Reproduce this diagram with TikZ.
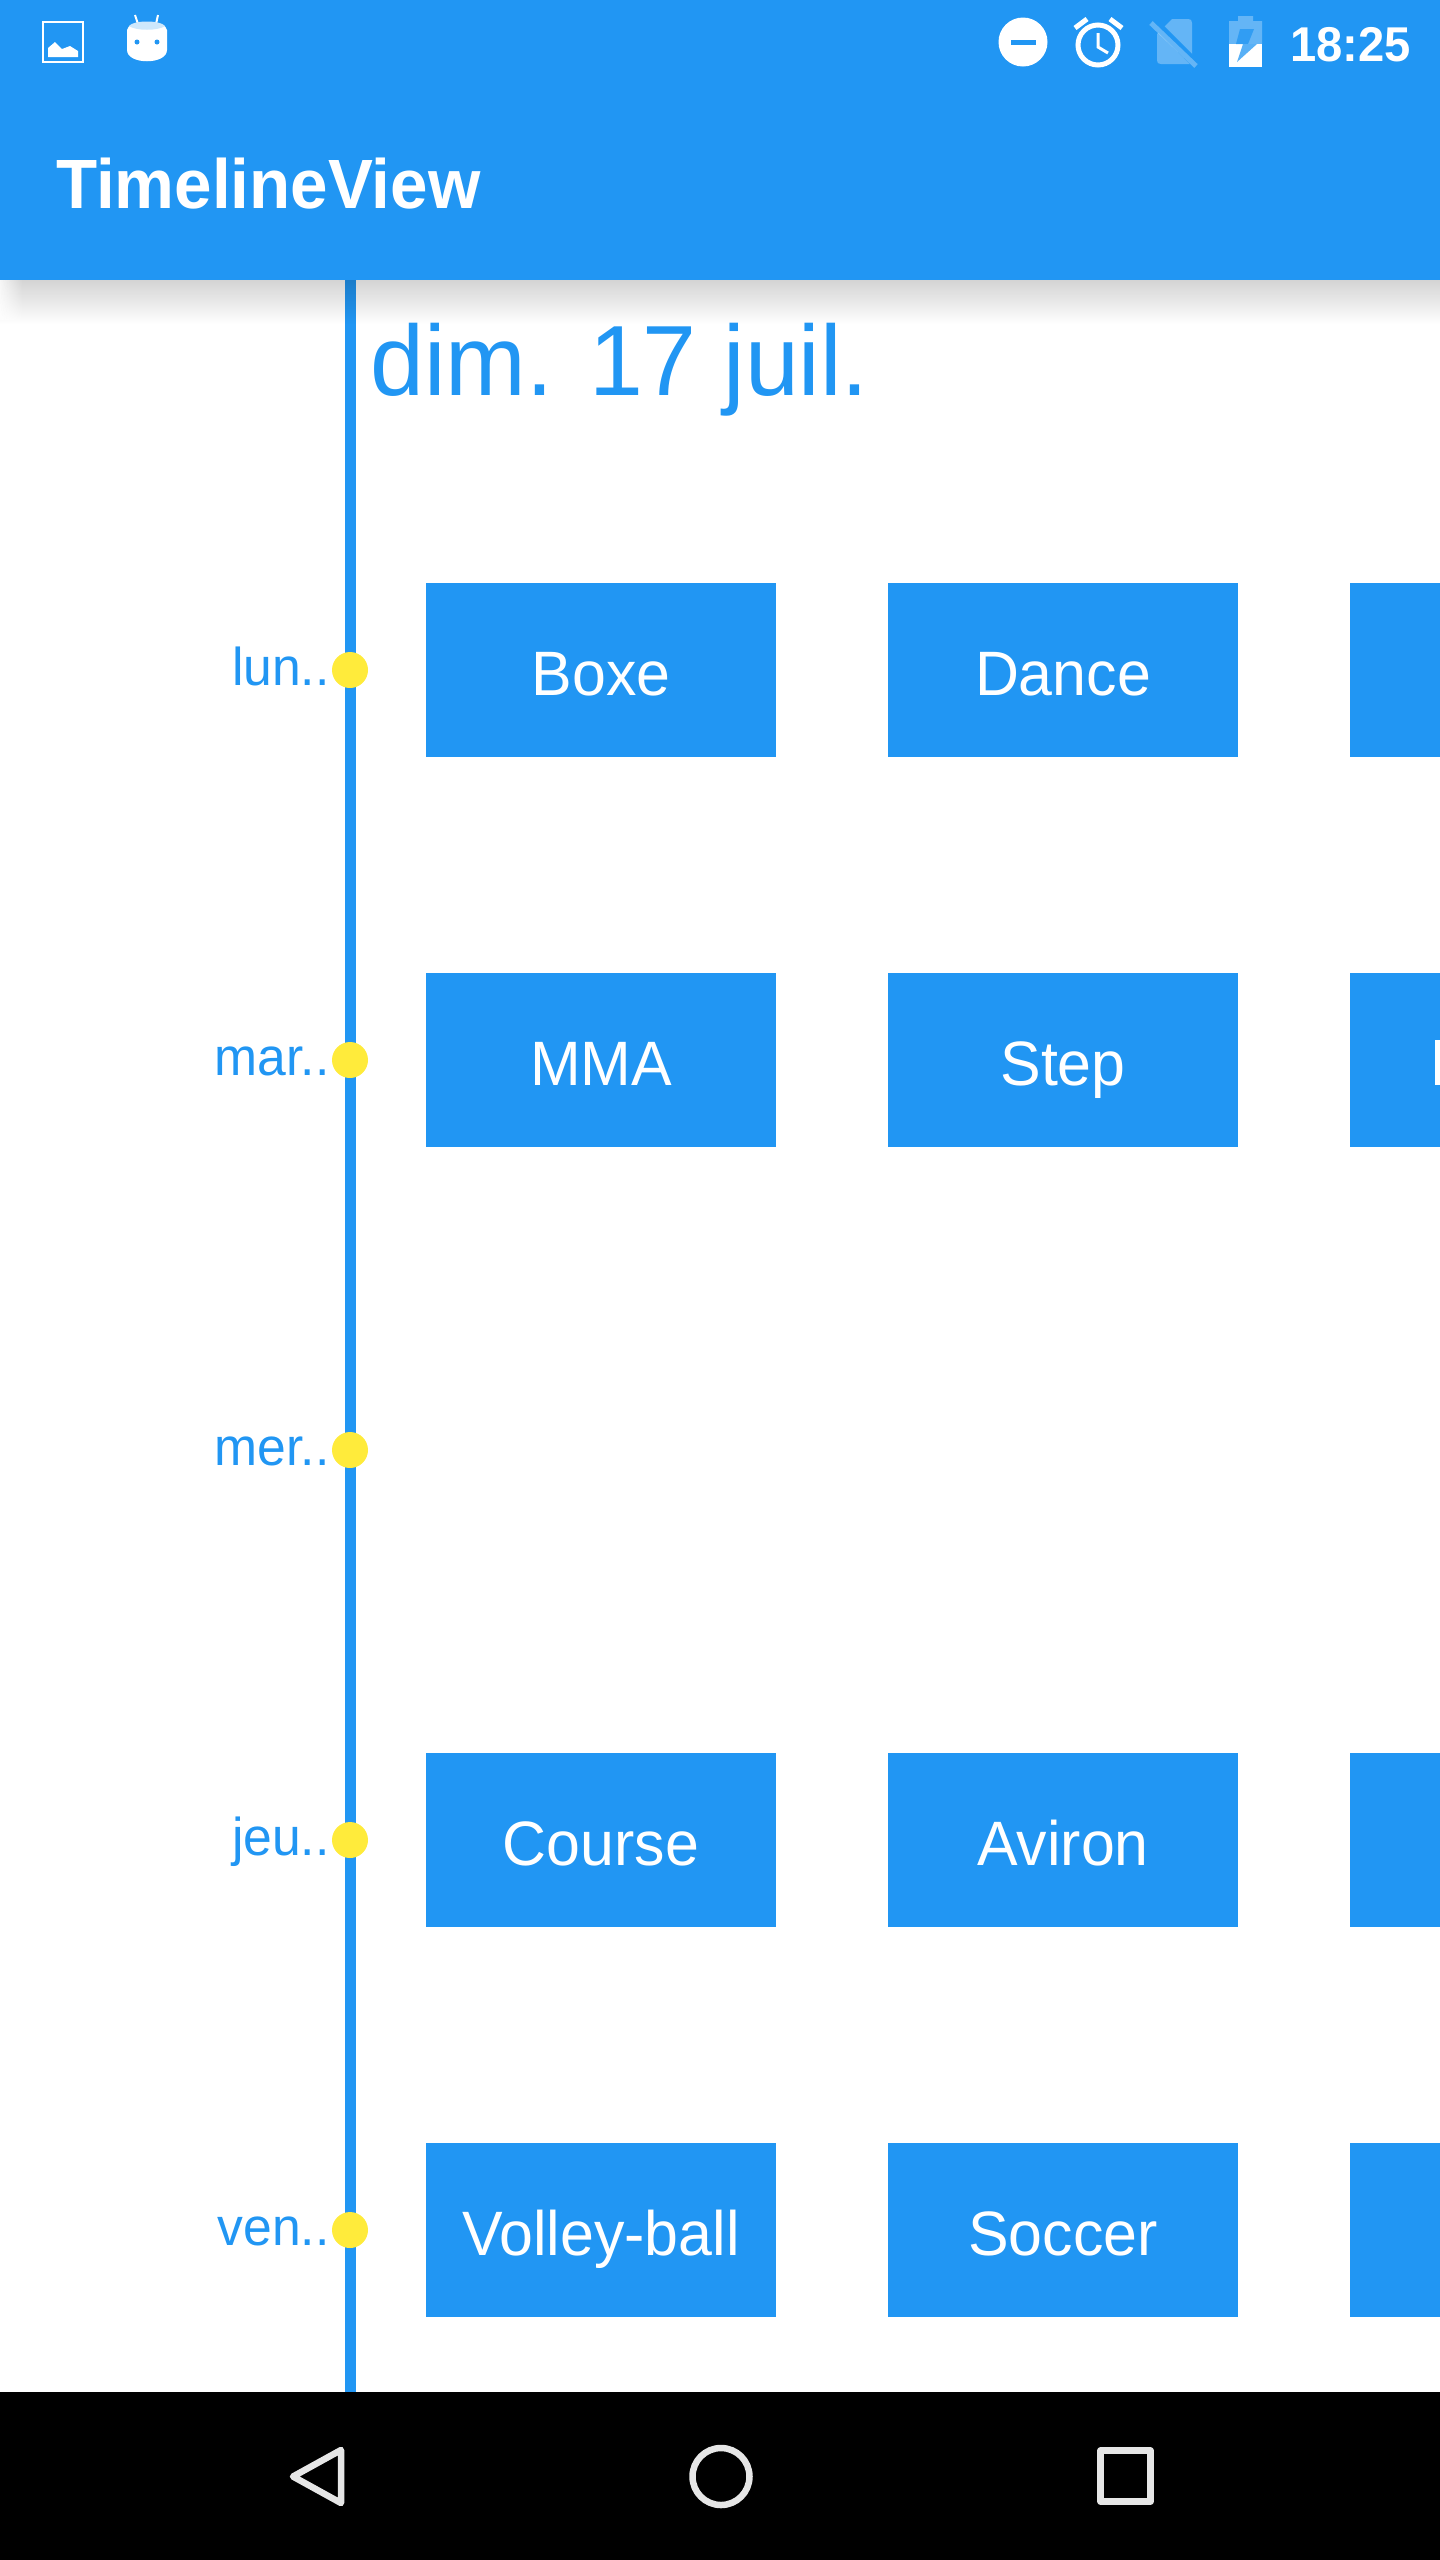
\documentclass[tikz,border=0pt]{standalone}
\usepackage{fontspec}
\setmainfont[FakeStretch=0.97]{Liberation Sans}
\newfontfamily\medfont[FakeStretch=0.965]{Liberation Sans Bold}
\usetikzlibrary{fadings}
\definecolor{matblue}{HTML}{2196F3}
\definecolor{matyellow}{HTML}{FFEB3B}
\definecolor{navgrey}{HTML}{E6E6E6}
\tikzset{
  activity/.style={fill=matblue, text=white, inner sep=0pt, minimum width=70mm, minimum height=34.8mm, font=\fontsize{35.7}{40}\selectfont},
  activitycut/.style={fill=matblue, inner sep=0pt, minimum width=18mm, minimum height=34.8mm, anchor=west},
  activitytext/.style={text=white, anchor=base, inner sep=0pt, font=\fontsize{35.7}{40}\selectfont},
  daydot/.style={circle, fill=matyellow, inner sep=0pt, minimum size=7.2mm},
  daylabel/.style={text=matblue, anchor=base east, inner sep=0pt, font=\fontsize{30.3}{36}\selectfont},
  icondim/.style={white, opacity=0.3}
}
\begin{document}
\begin{tikzpicture}[x=0.2mm, y=-0.2mm]
	\useasboundingbox (0,0) rectangle (1440,2560);

	% Tidslinje
	\coordinate (linetop) at (350,280);
	\coordinate (linebot) at (350,2392);
	\draw[matblue, line width=2.2mm] (linetop) -- (linebot);

	% Skygge under verktoylinjen
	\fill[black, opacity=0.23, path fading=south] (0,264) rectangle (1440,324);
	\fill[white, path fading=east] (-6,280) rectangle (22,320);

	% Verktoylinje
	\fill[matblue] (0,0) rectangle (1440,280);
	\node[text=white, anchor=base west, inner sep=0pt, font=\medfont\fontsize{39.7}{44}\selectfont] (title) at (56,208) {TimelineView};
	\node[text=white, anchor=base east, inner sep=0pt, font=\medfont\fontsize{27.8}{32}\selectfont] (clock) at (1411,61) {18:25};

	% Bildeikon
	\draw[white, line width=0.5mm] (43,22) rectangle (83,62);
	\fill[white] (48,57) -- (48,48) -- (55,42) -- (62,49) -- (70,46) -- (78,51) -- (78,57) -- cycle;

	% Android-ikon
	\draw[white, line width=0.4mm] (135,15) -- (138,24) (158,15) -- (156,24);
	\fill[white] (127,30) .. controls (127,20) and (167,20) .. (167,30) -- (167,50) .. controls (167,65) and (127,65) .. (127,50) -- cycle;
	\fill[white!78!matblue] (129,26) .. controls (133,20) and (161,20) .. (165,26) .. controls (158,31) and (136,31) .. (129,26) -- cycle;
	\fill[matblue] (137,42) circle (2.5) (157,42) circle (2.5);

	% Ikke forstyrr
	\fill[white] (1023,42) circle (24.5);
	\fill[matblue] (1011,40) rectangle (1036,45);

	% Alarm
	\draw[white, line width=1mm] (1098,45) circle (20);
	\draw[white, line width=1mm] (1075,28) -- (1087,19) (1110,19) -- (1122,28);
	\draw[white, line width=0.6mm] (1098,33) -- (1098,47) -- (1108,53);

	% SIM
	\fill[icondim] (1157,34) -- (1172,19) -- (1188,19) .. controls (1191,19) and (1192,20) .. (1192,23) -- (1192,64) -- (1161,64) .. controls (1158,64) and (1157,63) .. (1157,60) -- cycle;
	\draw[matblue, line width=1.7mm] (1152,20) -- (1197,65);
	\draw[icondim, line width=1mm] (1151,23) -- (1196,66);

	% Batteri
	\fill[icondim] (1238,16) rectangle (1253,21) (1229,21) rectangle (1262,44);
	\fill[white] (1229,44) rectangle (1262,67);
	\fill[matblue, opacity=0.75] (1240,29) -- (1254,29) -- (1248,44) -- (1257,44) -- (1237,62) -- (1243,44) -- (1236,44) -- cycle;

	% Dato
	\node[text=matblue, anchor=base west, inner sep=0pt, font=\fontsize{56.8}{64}\selectfont] (date) at (370,395) {dim. 17 juil.};

	% Dager
	\node[daydot] (dot1) at (350,670) {};
	\node[daydot] (dot2) at (350,1060) {};
	\node[daydot] (dot3) at (350,1450) {};
	\node[daydot] (dot4) at (350,1840) {};
	\node[daydot] (dot5) at (350,2230) {};
	\node[daylabel] (day1) at (330,685) {lun..};
	\node[daylabel] (day2) at (330,1075) {mar..};
	\node[daylabel] (day3) at (330,1465) {mer..};
	\node[daylabel] (day4) at (330,1855) {jeu..};
	\node[daylabel] (day5) at (330,2245) {ven..};

	% Aktiviteter
	\node[activity] (boxe) at (601,670) {};
	\node[activity] (dance) at (1063,670) {};
	\node[activitycut] (third1) at (1350,670) {};
	\node[activity] (mma) at (601,1060) {};
	\node[activity] (stepact) at (1063,1060) {};
	\node[activitycut] (third2) at (1350,1060) {};
	\node[activity] (course) at (601,1840) {};
	\node[activity] (aviron) at (1063,1840) {};
	\node[activitycut] (third4) at (1350,1840) {};
	\node[activity] (volley) at (601,2230) {};
	\node[activity] (soccer) at (1063,2230) {};
	\node[activitycut] (third5) at (1350,2230) {};
	\node[activitytext] at (601,695) {Boxe};
	\node[activitytext] at (1063,695) {Dance};
	\node[activitytext] at (601,1085) {MMA};
	\node[activitytext] at (1063,1085) {Step};
	\node[activitytext] at (601,1865) {Course};
	\node[activitytext] at (1063,1865) {Aviron};
	\node[activitytext] at (601,2255) {Volley-ball};
	\node[activitytext] at (1063,2255) {Soccer};

	% Avkuttet bokstav
	\fill[white] (1435,1040) rectangle (1440,1085);

	% Navigasjon
	\fill[black] (0,2392) rectangle (1440,2560);
	\draw[navgrey, line width=1.3mm, line join=round] (341,2450) -- (341,2503) -- (293,2476.5) -- cycle;
	\draw[navgrey, line width=1.3mm] (721,2476.5) circle (28.5);
	\draw[navgrey, line width=1.3mm, line join=round] (1100.5,2450.5) rectangle (1150.5,2501.5);
\end{tikzpicture}
\end{document}
